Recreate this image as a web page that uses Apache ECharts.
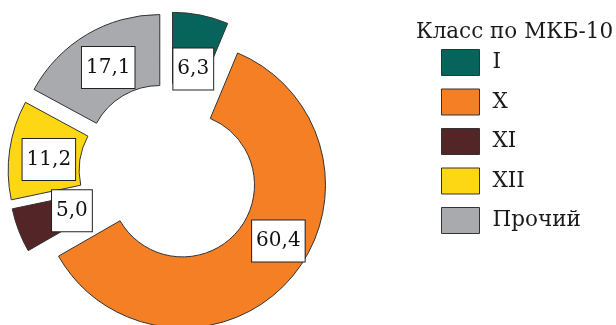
<!DOCTYPE html>
<html>
<head>
<meta charset="utf-8">
<script src="https://cdn.jsdelivr.net/npm/echarts@6/dist/echarts.min.js"></script>
<style>
html,body{margin:0;padding:0;background:#fff;}
#chart{width:616px;height:325px;}
</style>
</head>
<body>
<div id="chart"></div>
<script>
var categories = ['I', 'X', 'XI', 'XII', 'Прочий'];
var values = [6.3, 60.4, 5.0, 11.2, 17.1];
var legendTitle = 'Класс по МКБ-10';

var colors = ['#07645d', '#f47f24', '#532527', '#fdd614', '#a9aaad'];
var labelShift = [[-1, 22], [13, -17], [23, -8], [7, 5], [5, 5]];
var FONT = 'DejaVu Serif';

var chart = echarts.init(document.getElementById('chart'), null, {renderer: 'canvas'});

var pieData = categories.map(function (name, i) {
  return {
    name: name,
    value: values[i],
    selected: true,
    itemStyle: {color: colors[i]}
  };
});

var legendData = categories.map(function (name, i) {
  return {name: name, itemStyle: {color: colors[i], borderColor: '#333', borderWidth: 1}};
});

chart.setOption({
  animation: false,
  color: colors,
  title: {
    text: legendTitle,
    left: 411,
    top: 16,
    textStyle: {fontFamily: FONT, fontSize: 21.5, fontWeight: 'normal', color: '#1a1a1a'}
  },
  legend: {
    orient: 'vertical',
    left: 441,
    top: 49,
    padding: 0,
    icon: 'rect',
    itemWidth: 38,
    itemHeight: 26,
    itemGap: 12.5,
    selectedMode: false,
    data: legendData,
    textStyle: {fontFamily: FONT, fontSize: 21.5, color: '#1a1a1a', padding: [0, 0, 0, 8]}
  },
  series: [{
    type: 'pie',
    center: [169, 173],
    radius: [72, 143],
    startAngle: 90,
    clockwise: true,
    selectedMode: 'multiple',
    selectedOffset: 18,
    avoidLabelOverlap: false,
    emphasis: {disabled: true},
    itemStyle: {borderColor: '#333', borderWidth: 1},
    select: {itemStyle: {borderColor: '#333', borderWidth: 1}},
    label: {
      show: true,
      position: 'inside',
      formatter: function (p) { return p.value.toFixed(1).replace('.', ','); },
      fontFamily: FONT,
      fontSize: 20,
      color: '#111',
      backgroundColor: '#fff',
      borderColor: '#222',
      borderWidth: 1,
      padding: [12, 4, 9, 4]
    },
    labelLayout: function (params) {
      var s = labelShift[params.dataIndex];
      return {dx: s[0], dy: s[1]};
    },
    labelLine: {show: false},
    data: pieData
  }]
});
</script>
</body>
</html>
